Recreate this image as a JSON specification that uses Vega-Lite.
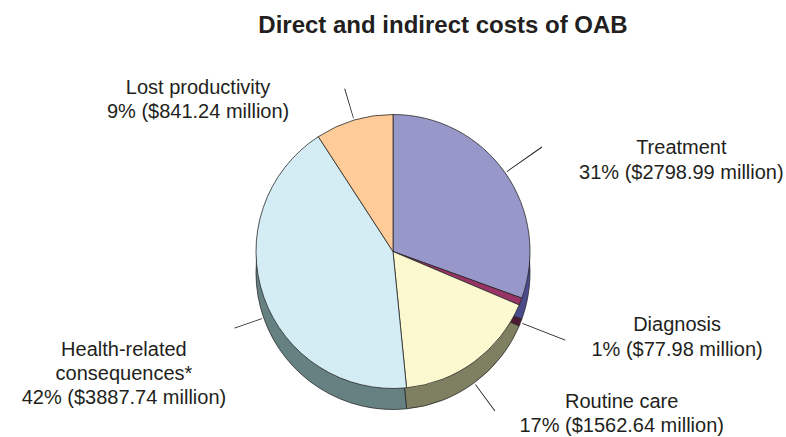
{
  "$schema": "https://vega.github.io/schema/vega-lite/v6.json",
  "width": 786,
  "height": 437,
  "autosize": "none",
  "padding": 0,
  "background": "white",
  "config": {"view": {"stroke": null}, "font": "Liberation Sans"},
  "title": {"text": "Direct and indirect costs of OAB", "font": "Liberation Sans", "fontSize": 24, "fontWeight": "bold", "color": "#231f20", "anchor": "middle", "frame": "group", "offset": -38, "dx": 50},
  "data": {"values": [
    {"order": 1, "category": "Treatment", "label": "Treatment", "cost": 2798.99, "pct": 31},
    {"order": 2, "category": "Diagnosis", "label": "Diagnosis", "cost": 77.98, "pct": 1},
    {"order": 3, "category": "Routine care", "label": "Routine care", "cost": 1562.64, "pct": 17},
    {"order": 4, "category": "Health-related consequences", "label": "Health-related\nconsequences*", "cost": 3887.74, "pct": 42},
    {"order": 5, "category": "Lost productivity", "label": "Lost productivity", "cost": 841.24, "pct": 9}
  ]},
  "transform": [
    {"calculate": "datum.label + '\\n' + datum.pct + '% ($' + format(datum.cost, '.2f') + ' million)'", "as": "fullLabel"},
    {"window": [{"op": "sum", "field": "cost", "as": "cum"}], "sort": [{"field": "order"}], "frame": [null, 0]},
    {"calculate": "datum.cum - datum.cost / 2 - 4", "as": "la"},
    {"calculate": "datum.cum - datum.cost / 2 + 4", "as": "lb"}
  ],
  "encoding": {
    "theta": {"field": "cost", "type": "quantitative", "stack": true},
    "order": {"field": "order", "type": "quantitative"}
  },
  "layer": [
    {
      "mark": {"type": "arc", "outerRadius": 137, "y": {"expr": "height/2 + 40"}},
      "encoding": {"color": {"field": "category", "type": "nominal", "legend": null, "scale": {"domain": ["Treatment", "Diagnosis", "Routine care", "Health-related consequences", "Lost productivity"], "range": ["#4b4b8c", "#4d1a33", "#7f7f62", "#668182", "#806650"]}}}
    },
    {
      "mark": {"type": "arc", "outerRadius": 137, "y": {"expr": "height/2 + 47"}},
      "encoding": {"color": {"field": "category", "type": "nominal", "legend": null, "scale": {"domain": ["Treatment", "Diagnosis", "Routine care", "Health-related consequences", "Lost productivity"], "range": ["#4b4b8c", "#4d1a33", "#7f7f62", "#668182", "#806650"]}}}
    },
    {
      "mark": {"type": "arc", "outerRadius": 137, "y": {"expr": "height/2 + 54"}, "stroke": "#2a2a2a", "strokeWidth": 0.8},
      "encoding": {"color": {"field": "category", "type": "nominal", "legend": null, "scale": {"domain": ["Treatment", "Diagnosis", "Routine care", "Health-related consequences", "Lost productivity"], "range": ["#4b4b8c", "#4d1a33", "#7f7f62", "#668182", "#806650"]}}}
    },
    {
      "mark": {"type": "arc", "outerRadius": 137, "y": {"expr": "height/2 + 33"}, "stroke": "#2a2a2a", "strokeWidth": 0.8},
      "encoding": {"color": {"field": "category", "type": "nominal", "legend": null, "scale": {"domain": ["Treatment", "Diagnosis", "Routine care", "Health-related consequences", "Lost productivity"], "range": ["#9797c9", "#993366", "#fcf9d0", "#d4ecf4", "#ffcc99"]}}}
    },
    {
      "transform": [{"filter": "datum.category == 'Treatment'"}],
      "mark": {"type": "arc", "innerRadius": 139, "outerRadius": 182, "y": {"expr": "height/2 + 33"}, "color": "#231f20"},
      "encoding": {"theta": {"field": "la", "type": "quantitative", "stack": null}, "theta2": {"field": "lb"}}
    },
    {
      "transform": [{"filter": "datum.category == 'Lost productivity'"}],
      "mark": {"type": "arc", "innerRadius": 139, "outerRadius": 170, "y": {"expr": "height/2 + 33"}, "color": "#231f20"},
      "encoding": {"theta": {"field": "la", "type": "quantitative", "stack": null}, "theta2": {"field": "lb"}}
    },
    {
      "transform": [{"filter": "datum.category == 'Diagnosis'"}],
      "mark": {"type": "arc", "innerRadius": 139, "outerRadius": 185, "y": {"expr": "height/2 + 54"}, "color": "#231f20"},
      "encoding": {"theta": {"field": "la", "type": "quantitative", "stack": null}, "theta2": {"field": "lb"}}
    },
    {
      "transform": [{"filter": "datum.category == 'Routine care'"}],
      "mark": {"type": "arc", "innerRadius": 139, "outerRadius": 172, "y": {"expr": "height/2 + 54"}, "color": "#231f20"},
      "encoding": {"theta": {"field": "la", "type": "quantitative", "stack": null}, "theta2": {"field": "lb"}}
    },
    {
      "transform": [{"filter": "datum.category == 'Health-related consequences'"}],
      "mark": {"type": "arc", "innerRadius": 139, "outerRadius": 168, "y": {"expr": "height/2 + 54"}, "color": "#231f20"},
      "encoding": {"theta": {"field": "la", "type": "quantitative", "stack": null}, "theta2": {"field": "lb"}}
    },
    {
      "transform": [{"calculate": "datum.category == 'Treatment' ? datum.fullLabel : ''", "as": "t"}],
      "mark": {"type": "text", "radius": 158, "y": {"expr": "height/2 + 33"}, "dx": 159, "dy": -7, "align": "center", "baseline": "alphabetic", "fontSize": 20, "lineHeight": 25, "lineBreak": "\n", "color": "#231f20"},
      "encoding": {"text": {"field": "t"}}
    },
    {
      "transform": [{"calculate": "datum.category == 'Diagnosis' ? datum.fullLabel : ''", "as": "t"}],
      "mark": {"type": "text", "radius": 158, "y": {"expr": "height/2 + 33"}, "dx": 137, "dy": 22, "align": "center", "baseline": "alphabetic", "fontSize": 20, "lineHeight": 25, "lineBreak": "\n", "color": "#231f20"},
      "encoding": {"text": {"field": "t"}}
    },
    {
      "transform": [{"calculate": "datum.category == 'Routine care' ? datum.fullLabel : ''", "as": "t"}],
      "mark": {"type": "text", "radius": 158, "y": {"expr": "height/2 + 33"}, "dx": 135, "dy": 29, "align": "center", "baseline": "alphabetic", "fontSize": 20, "lineHeight": 24, "lineBreak": "\n", "color": "#231f20"},
      "encoding": {"text": {"field": "t"}}
    },
    {
      "transform": [{"calculate": "datum.category == 'Health-related consequences' ? datum.fullLabel : ''", "as": "t"}],
      "mark": {"type": "text", "radius": 158, "y": {"expr": "height/2 + 33"}, "dx": -120, "dy": 52, "align": "center", "baseline": "alphabetic", "fontSize": 20, "lineHeight": 24, "lineBreak": "\n", "color": "#231f20"},
      "encoding": {"text": {"field": "t"}}
    },
    {
      "transform": [{"calculate": "datum.category == 'Lost productivity' ? datum.fullLabel : ''", "as": "t"}],
      "mark": {"type": "text", "radius": 158, "y": {"expr": "height/2 + 33"}, "dx": -150, "dy": -6, "align": "center", "baseline": "alphabetic", "fontSize": 20, "lineHeight": 24, "lineBreak": "\n", "color": "#231f20"},
      "encoding": {"text": {"field": "t"}}
    }
  ],
  "resolve": {"scale": {"color": "independent"}}
}
